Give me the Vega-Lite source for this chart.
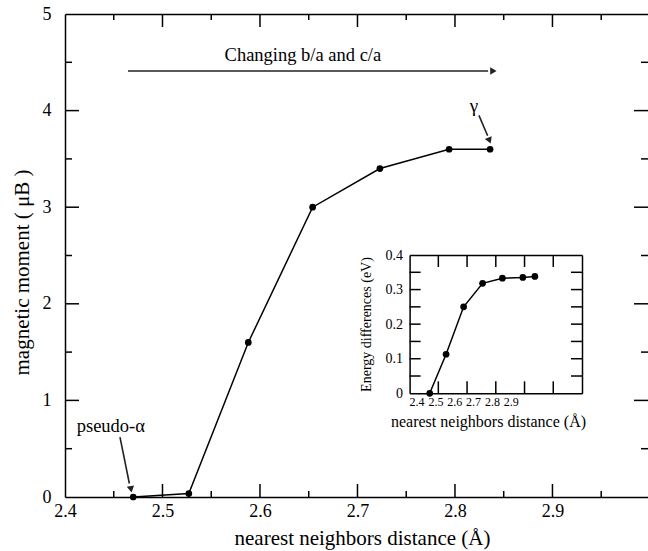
{
  "$schema": "https://vega.github.io/schema/vega-lite/v6.json",
  "width": 583,
  "height": 483,
  "padding": {"left": 65, "top": 14, "right": 0, "bottom": 54},
  "autosize": {"type": "none"},
  "config": {"view": {"stroke": null}},
  "datasets": {
    "main": [
      {"d": 2.47, "m": 0.0},
      {"d": 2.527, "m": 0.035},
      {"d": 2.588, "m": 1.6},
      {"d": 2.654, "m": 3.0},
      {"d": 2.723, "m": 3.4},
      {"d": 2.794, "m": 3.6},
      {"d": 2.836, "m": 3.6}
    ],
    "inset": [
      {"d": 2.47, "e": 0.0},
      {"d": 2.527, "e": 0.113},
      {"d": 2.588, "e": 0.25},
      {"d": 2.654, "e": 0.318},
      {"d": 2.723, "e": 0.333},
      {"d": 2.794, "e": 0.335},
      {"d": 2.836, "e": 0.338}
    ],
    "labels": [
      {"x": 2.644, "y": 4.58, "t": "Changing b/a and c/a", "s": 18.5},
      {"x": 2.8195, "y": 4.05, "t": "γ", "s": 19},
      {"x": 2.447, "y": 0.74, "t": "pseudo-α", "s": 18.5}
    ],
    "arrows": [
      {"x": 2.4646, "y": 4.41, "x2": 2.834, "y2": 4.41},
      {"x": 2.8246, "y": 3.95, "x2": 2.8335, "y2": 3.74},
      {"x": 2.4564, "y": 0.62, "x2": 2.466, "y2": 0.14}
    ],
    "heads": [
      {"x": 2.8394, "y": 4.41, "a": 90},
      {"x": 2.8354, "y": 3.69, "a": 158},
      {"x": 2.4677, "y": 0.08, "a": 169}
    ],
    "mxM": [{"v": 2.5}, {"v": 2.6}, {"v": 2.7}, {"v": 2.8}, {"v": 2.9}],
    "mxm": [{"v": 2.45}, {"v": 2.55}, {"v": 2.65}, {"v": 2.75}, {"v": 2.85}, {"v": 2.95}],
    "myM": [{"v": 1}, {"v": 2}, {"v": 3}, {"v": 4}],
    "mym": [{"v": 0.5}, {"v": 1.5}, {"v": 2.5}, {"v": 3.5}, {"v": 4.5}],
    "ixt": [{"v": 2.5}, {"v": 2.6}, {"v": 2.7}, {"v": 2.8}, {"v": 2.9}],
    "iyt": [{"v": 0.05}, {"v": 0.1}, {"v": 0.15}, {"v": 0.2}, {"v": 0.25}, {"v": 0.3}, {"v": 0.35}]
  },
  "resolve": {"scale": {"x": "independent", "y": "independent"}},
  "layer": [
    {
      "data": {"name": "main"},
      "mark": {"type": "line", "color": "black", "strokeWidth": 1.5},
      "encoding": {
        "x": {
          "field": "d", "type": "quantitative",
          "scale": {"domain": [2.4, 2.998], "nice": false, "zero": false},
          "axis": {
            "orient": "bottom", "grid": false, "ticks": false, "domain": false,
            "values": [2.4, 2.5, 2.6, 2.7, 2.8, 2.9],
            "labelFlush": false, "labelOverlap": false,
            "labelExpr": "format(datum.value, '.1f')",
            "labelFont": "Liberation Serif", "labelFontSize": 18, "labelColor": "black", "labelPadding": 5,
            "title": "nearest neighbors distance (Å)",
            "titleFont": "Liberation Serif", "titleFontSize": 21, "titleFontWeight": "normal", "titleColor": "black",
            "titleBaseline": "middle", "titleX": 297, "titleY": 41
          }
        },
        "y": {
          "field": "m", "type": "quantitative",
          "scale": {"domain": [0, 5], "nice": false},
          "axis": {
            "orient": "left", "grid": false, "ticks": false, "domain": false,
            "values": [0, 1, 2, 3, 4, 5],
            "labelOverlap": false,
            "labelExpr": "format(datum.value, 'd')",
            "labelFont": "Liberation Serif", "labelFontSize": 18, "labelColor": "black", "labelPadding": 14,
            "title": "magnetic moment ( μB )",
            "titleFont": "Liberation Serif", "titleFontSize": 21, "titleFontWeight": "normal", "titleColor": "black",
            "titleBaseline": "middle", "titleX": -43, "titleY": 258
          }
        }
      }
    },
    {
      "data": {"name": "main"},
      "mark": {"type": "point", "filled": true, "color": "black", "opacity": 1, "size": 45, "shape": "circle"},
      "encoding": {
        "x": {
          "field": "d", "type": "quantitative",
          "scale": {"domain": [2.4, 2.998], "nice": false, "zero": false},
          "axis": {
            "orient": "top", "offset": -483, "grid": false, "labels": false, "title": null, "ticks": false,
            "domainColor": "black", "domainWidth": 1.5
          }
        },
        "y": {
          "field": "m", "type": "quantitative",
          "scale": {"domain": [0, 5], "nice": false},
          "axis": {
            "orient": "right", "offset": -583, "grid": false, "labels": false, "title": null, "ticks": false,
            "domainColor": "black", "domainWidth": 1.5
          }
        }
      }
    },
    {
      "data": {"name": "labels"},
      "mark": {"type": "text", "color": "black", "font": "Liberation Serif", "align": "center", "baseline": "middle"},
      "encoding": {
        "x": {
          "field": "x", "type": "quantitative",
          "scale": {"domain": [2.4, 2.998], "nice": false, "zero": false},
          "axis": {
            "orient": "bottom", "offset": -483, "grid": false, "labels": false, "title": null, "ticks": false,
            "domainColor": "black", "domainWidth": 1.5
          }
        },
        "y": {"field": "y", "type": "quantitative", "scale": {"domain": [0, 5], "nice": false}, "axis": null},
        "text": {"field": "t"},
        "size": {"field": "s", "type": "quantitative", "scale": null}
      }
    },
    {
      "data": {"name": "arrows"},
      "mark": {"type": "rule", "color": "#222", "strokeWidth": 1.6},
      "encoding": {
        "x": {"field": "x", "type": "quantitative", "scale": {"domain": [2.4, 2.998], "nice": false, "zero": false}, "axis": null},
        "y": {"field": "y", "type": "quantitative", "scale": {"domain": [0, 5], "nice": false}, "axis": null},
        "x2": {"field": "x2"},
        "y2": {"field": "y2"}
      }
    },
    {
      "data": {"name": "heads"},
      "mark": {"type": "point", "shape": "triangle-up", "filled": true, "color": "#222", "opacity": 1, "size": 55},
      "encoding": {
        "x": {"field": "x", "type": "quantitative", "scale": {"domain": [2.4, 2.998], "nice": false, "zero": false}, "axis": null},
        "y": {"field": "y", "type": "quantitative", "scale": {"domain": [0, 5], "nice": false}, "axis": null},
        "angle": {"field": "a", "type": "quantitative", "scale": null}
      }
    },
    {
      "data": {"name": "mxM"},
      "mark": {"type": "rule", "color": "black", "strokeWidth": 1.5},
      "encoding": {
        "x": {"field": "v", "type": "quantitative", "scale": {"domain": [2.4, 2.998], "nice": false, "zero": false}, "axis": null},
        "y": {"datum": 0, "type": "quantitative", "scale": {"domain": [0, 5], "nice": false}, "axis": null},
        "y2": {"datum": 0.1346}
      }
    },
    {
      "data": {"name": "mxm"},
      "mark": {"type": "rule", "color": "black", "strokeWidth": 1.5},
      "encoding": {
        "x": {"field": "v", "type": "quantitative", "scale": {"domain": [2.4, 2.998], "nice": false, "zero": false}, "axis": null},
        "y": {"datum": 0, "type": "quantitative", "scale": {"domain": [0, 5], "nice": false}, "axis": null},
        "y2": {"datum": 0.0621}
      }
    },
    {
      "data": {"name": "mxM"},
      "mark": {"type": "rule", "color": "black", "strokeWidth": 1.5},
      "encoding": {
        "x": {"field": "v", "type": "quantitative", "scale": {"domain": [2.4, 2.998], "nice": false, "zero": false}, "axis": null},
        "y": {"datum": 5, "type": "quantitative", "scale": {"domain": [0, 5], "nice": false}, "axis": null},
        "y2": {"datum": 4.8654}
      }
    },
    {
      "data": {"name": "mxm"},
      "mark": {"type": "rule", "color": "black", "strokeWidth": 1.5},
      "encoding": {
        "x": {"field": "v", "type": "quantitative", "scale": {"domain": [2.4, 2.998], "nice": false, "zero": false}, "axis": null},
        "y": {"datum": 5, "type": "quantitative", "scale": {"domain": [0, 5], "nice": false}, "axis": null},
        "y2": {"datum": 4.9379}
      }
    },
    {
      "data": {"name": "myM"},
      "mark": {"type": "rule", "color": "black", "strokeWidth": 1.5},
      "encoding": {
        "x": {"datum": 2.4, "type": "quantitative", "scale": {"domain": [2.4, 2.998], "nice": false, "zero": false}, "axis": null},
        "x2": {"datum": 2.41436},
        "y": {"field": "v", "type": "quantitative", "scale": {"domain": [0, 5], "nice": false}, "axis": null}
      }
    },
    {
      "data": {"name": "mym"},
      "mark": {"type": "rule", "color": "black", "strokeWidth": 1.5},
      "encoding": {
        "x": {"datum": 2.4, "type": "quantitative", "scale": {"domain": [2.4, 2.998], "nice": false, "zero": false}, "axis": null},
        "x2": {"datum": 2.40718},
        "y": {"field": "v", "type": "quantitative", "scale": {"domain": [0, 5], "nice": false}, "axis": null}
      }
    },
    {
      "data": {"name": "myM"},
      "mark": {"type": "rule", "color": "black", "strokeWidth": 1.5},
      "encoding": {
        "x": {"datum": 2.998, "type": "quantitative", "scale": {"domain": [2.4, 2.998], "nice": false, "zero": false}, "axis": null},
        "x2": {"datum": 2.98364},
        "y": {"field": "v", "type": "quantitative", "scale": {"domain": [0, 5], "nice": false}, "axis": null}
      }
    },
    {
      "data": {"name": "mym"},
      "mark": {"type": "rule", "color": "black", "strokeWidth": 1.5},
      "encoding": {
        "x": {"datum": 2.998, "type": "quantitative", "scale": {"domain": [2.4, 2.998], "nice": false, "zero": false}, "axis": null},
        "x2": {"datum": 2.99082},
        "y": {"field": "v", "type": "quantitative", "scale": {"domain": [0, 5], "nice": false}, "axis": null}
      }
    },
    {
      "data": {"name": "inset"},
      "mark": {"type": "line", "color": "black", "strokeWidth": 1.5},
      "encoding": {
        "x": {
          "field": "d", "type": "quantitative",
          "scale": {"domain": [2.4, 3.0], "range": [344.6, 517], "nice": false, "zero": false},
          "axis": {
            "orient": "bottom", "offset": -103.7, "grid": false, "ticks": false, "domain": false,
            "values": [2.4, 2.5, 2.6, 2.7, 2.8, 2.9],
            "labelFlush": false, "labelOverlap": false,
            "labelExpr": "format(datum.value, '.1f')",
            "labelOffset": {"expr": "7 - (datum.value - 2.4) * 99"},
            "labelFont": "Liberation Serif", "labelFontSize": 12, "labelColor": "black", "labelPadding": 3,
            "title": "nearest neighbors distance (Å)",
            "titleFont": "Liberation Serif", "titleFontSize": 16, "titleFontWeight": "normal", "titleColor": "black",
            "titleBaseline": "middle", "titleX": 423, "titleY": 28
          }
        },
        "y": {
          "field": "e", "type": "quantitative",
          "scale": {"domain": [0, 0.4], "range": [379.3, 241], "nice": false},
          "axis": {
            "orient": "left", "offset": -344.6, "grid": false, "ticks": false, "domain": false,
            "values": [0, 0.1, 0.2, 0.3, 0.4],
            "labelOverlap": false,
            "labelExpr": "datum.value == 0 ? '0' : format(datum.value, '.1f')",
            "labelFont": "Liberation Serif", "labelFontSize": 14, "labelColor": "black", "labelPadding": 7,
            "title": "Energy differences (eV)",
            "titleFont": "Liberation Serif", "titleFontSize": 14, "titleFontWeight": "normal", "titleColor": "black",
            "titleBaseline": "middle", "titleX": -43, "titleY": 310
          }
        }
      }
    },
    {
      "data": {"name": "inset"},
      "mark": {"type": "point", "filled": true, "color": "black", "opacity": 1, "size": 45, "shape": "circle"},
      "encoding": {
        "x": {
          "field": "d", "type": "quantitative",
          "scale": {"domain": [2.4, 3.0], "range": [344.6, 517], "nice": false, "zero": false},
          "axis": {
            "orient": "top", "offset": -379.3, "grid": false, "labels": false, "title": null, "ticks": false,
            "domainColor": "black", "domainWidth": 1.5
          }
        },
        "y": {
          "field": "e", "type": "quantitative",
          "scale": {"domain": [0, 0.4], "range": [379.3, 241], "nice": false},
          "axis": {
            "orient": "right", "offset": -238.4, "grid": false, "labels": false, "title": null, "ticks": false,
            "domainColor": "black", "domainWidth": 1.5
          }
        }
      }
    },
    {
      "data": {"name": "inset"},
      "mark": {"type": "point", "opacity": 0, "size": 1},
      "encoding": {
        "x": {
          "field": "d", "type": "quantitative",
          "scale": {"domain": [2.4, 3.0], "range": [344.6, 517], "nice": false, "zero": false},
          "axis": {
            "orient": "bottom", "offset": -242, "grid": false, "labels": false, "title": null, "ticks": false,
            "domainColor": "black", "domainWidth": 1.5
          }
        },
        "y": {
          "field": "e", "type": "quantitative",
          "scale": {"domain": [0, 0.4], "range": [379.3, 241], "nice": false},
          "axis": {
            "orient": "left", "offset": -517, "grid": false, "labels": false, "title": null, "ticks": false,
            "domainColor": "black", "domainWidth": 1.5
          }
        }
      }
    },
    {
      "data": {"name": "ixt"},
      "mark": {"type": "rule", "color": "black", "strokeWidth": 1.5},
      "encoding": {
        "x": {"field": "v", "type": "quantitative", "scale": {"domain": [2.4, 3.0], "range": [344.6, 517], "nice": false, "zero": false}, "axis": null},
        "y": {"datum": 0, "type": "quantitative", "scale": {"domain": [0, 0.4], "range": [379.3, 241], "nice": false}, "axis": null},
        "y2": {"datum": 0.0347}
      }
    },
    {
      "data": {"name": "ixt"},
      "mark": {"type": "rule", "color": "black", "strokeWidth": 1.5},
      "encoding": {
        "x": {"field": "v", "type": "quantitative", "scale": {"domain": [2.4, 3.0], "range": [344.6, 517], "nice": false, "zero": false}, "axis": null},
        "y": {"datum": 0.4, "type": "quantitative", "scale": {"domain": [0, 0.4], "range": [379.3, 241], "nice": false}, "axis": null},
        "y2": {"datum": 0.3653}
      }
    },
    {
      "data": {"name": "iyt"},
      "mark": {"type": "rule", "color": "black", "strokeWidth": 1.5},
      "encoding": {
        "x": {"datum": 2.4, "type": "quantitative", "scale": {"domain": [2.4, 3.0], "range": [344.6, 517], "nice": false, "zero": false}, "axis": null},
        "x2": {"datum": 2.4383},
        "y": {"field": "v", "type": "quantitative", "scale": {"domain": [0, 0.4], "range": [379.3, 241], "nice": false}, "axis": null}
      }
    },
    {
      "data": {"name": "iyt"},
      "mark": {"type": "rule", "color": "black", "strokeWidth": 1.5},
      "encoding": {
        "x": {"datum": 3.0, "type": "quantitative", "scale": {"domain": [2.4, 3.0], "range": [344.6, 517], "nice": false, "zero": false}, "axis": null},
        "x2": {"datum": 2.9617},
        "y": {"field": "v", "type": "quantitative", "scale": {"domain": [0, 0.4], "range": [379.3, 241], "nice": false}, "axis": null}
      }
    }
  ]
}
